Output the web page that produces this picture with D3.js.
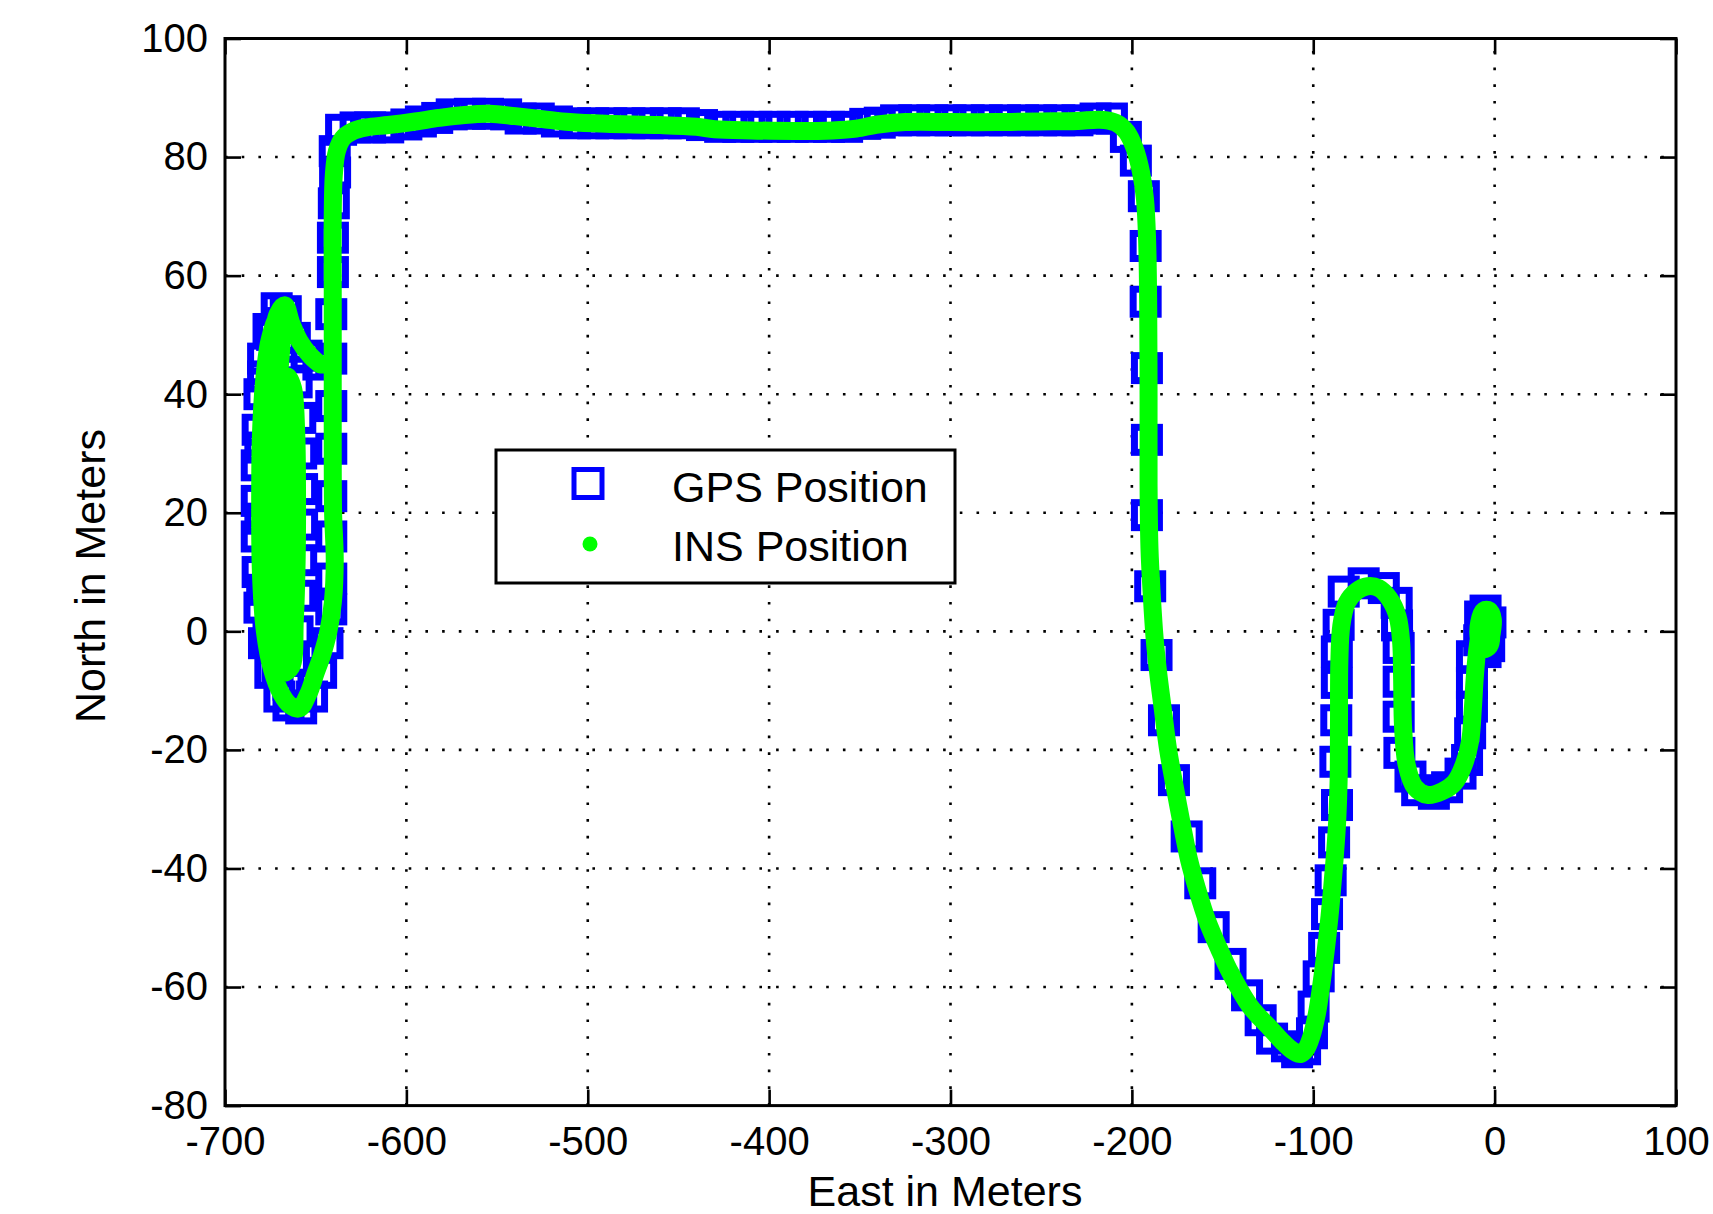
<!DOCTYPE html>
<html>
<head>
<meta charset="utf-8">
<script src="https://cdn.jsdelivr.net/npm/d3@7"></script>
<style>
  html, body { margin: 0; padding: 0; background: #fff; }
  svg { display: block; font-family: "Liberation Sans", Arial, Helvetica, sans-serif; }
</style>
</head>
<body>
<svg id="chart" width="1713" height="1214"></svg>
<script>
// Axis ticks
const xTicks = [-700, -600, -500, -400, -300, -200, -100, 0, 100];
const yTicks = [-80, -60, -40, -20, 0, 20, 40, 60, 80, 100];

const seriesNames = ["GPS Position", "INS Position"];
const xTitle = "East in Meters";
const yTitle = "North in Meters";

// GPS fixes (east, north) in metres
const gpsEast = [
  -3, -2.3, -5, -8, -8.5, -5,
  -12.5, -12.5, -12.5, -13.5, -15.2, -18.8, -26.2, -33.5, -42.7, -46.4,
  -52.5, -52.9, -52.9, -52.9, -53.8, -54, -61.1, -72.2, -83.2, -86,
  -87, -87, -87.3, -87.8, -86.9, -88.5, -90.4, -92.4, -94, -97, -99.8, -100.7,
  -104.5, -108.9, -114.5, -122.7, -129, -136.5, -145.6, -154.9, -162.3, -169.8,
  -176.8, -182.3, -186.4, -189.9, -191.7, -191.7, -191.7, -192.4, -192.4, -193.4,
  -197.8, -203.3, -211, -220,
  -230, -240, -250, -260, -270, -280, -290, -300, -310, -320, -330,
  -339, -347, -357, -367, -377, -387, -397, -407, -417, -427,
  -437, -447, -457, -467, -477, -487, -497, -507,
  -517, -527, -537, -545, -555, -565, -575, -583, -592, -600, -610, -620, -628, -636,
  -639.5, -639.3, -640, -640.5, -640.5, -641.4, -641.4, -641.4, -641.4, -641.4,
  -641.4, -641.4, -641.4, -643.5, -647, -652, -658,
  -665, -670, -675, -678.5, -681, -682, -682.5, -682.5, -682.5, -682, -681, -679,
  -676, -671.5, -666.5, -663, -660.5, -658.5, -658, -657.5, -657.5, -658, -658.5,
  -660, -662, -665,
  -671, -676, -679.5, -680.5, -680.5, -679, -674, -668, -661.5, -655, -648.5,
  -672, -670, -668, -665
];
const gpsNorth = [
  -2.5, 1.5, 3.5, 2.5, -1.5, -3.5,
  -4.2, -8.7, -12.7, -17.2, -21.7, -24, -26.3, -27.4, -26.8, -24.5,
  -20.5, -14.4, -8.5, -2.8, 1, 4.8, 7.3, 8.1, 6.7, 1.1,
  -3.4, -8.7, -15, -22, -29.3, -35.6, -42, -47.7, -53.4, -58.2, -63.3, -67.8,
  -70.5, -71, -70, -68.7, -65.6, -61.4, -56.1, -49.9, -42.5, -34.6,
  -25.1, -15, -4, 7.6, 19.6, 32.3, 44.4, 55.6, 65, 73.4,
  79.4, 83.4, 86.5, 86.5,
  86.2, 86.2, 86.2, 86.2, 86.2, 86.2, 86.2, 86.2, 86.2, 86.2, 86.2,
  85.8, 85.6, 85.1, 85.1, 85.1, 85.1, 85.1, 85.1, 85.1, 85.1,
  85.4, 85.7, 85.7, 85.7, 85.7, 85.7, 85.7, 85.7,
  86, 86.5, 86.5, 87.2, 87.3, 87.3, 87.2, 86.6, 86, 85.5, 85, 85, 85, 84.6,
  81, 77.4, 72.2, 66.4, 60.6, 53.5, 46, 38, 30.8, 22.8,
  16, 8.9, 3.7, -2, -7, -11, -13,
  -12.5, -11, -7, -2, 4, 10, 16, 22, 28, 34, 40, 46,
  51, 54.5, 54, 48, 42, 36, 30, 24, 18, 12, 6,
  0, -5, -9,
  -6, -1, 7, 19, 31, 43, 50, 52, 49.5, 46.5, 45,
  10, 25, 38, 15
];

// INS solution (east, north) in metres
const insEast = [
  -2, -1, -3, -6, -8.5, -8.5, -6, -3, -2, -4, -7, -9.5,
  -11, -12, -13.5, -17, -22, -29, -37, -44, -48.5, -50.5, -51, -51.5,
  -53.5, -58, -64, -70, -76, -81.5, -84.5, -85.6, -85.8, -86, -86.8, -88,
  -89.5, -91, -93.3, -95.5, -98, -101, -104, -107, -111, -116, -123.6, -134.7,
  -145.7, -152, -158.6, -164, -168.5, -172.5, -176.5, -180, -183, -185.5, -187.5, -189,
  -190.3, -190.8, -190.8, -191, -191.6, -192.8, -195, -198.5, -203, -209, -217.5,
  -230, -250, -275, -300, -325, -340, -352, -365, -385, -410, -430, -440,
  -460, -490, -510, -525, -540, -554, -568, -582, -595, -610, -622, -630,
  -635, -638.3, -640, -640.6, -640.6, -640.6, -640.6, -640.4, -639.5, -640.5,
  -643, -646.5, -650, -654, -659,
  -664, -669, -674, -678, -680.2, -680.6, -680.2, -678.5, -675.5, -671.5, -669,
  -670.5, -672, -672.5, -672.5, -671, -668,
  -663.5, -661.5, -660.5, -660.3, -660.8, -662.5, -665.5,
  -667.5, -667.5, -667.5, -668, -670.5,
  -675, -677.5, -678, -677.5, -675, -671, -667, -663.5, -659, -653, -647.5
];
const insNorth = [
  -1, 2, 3.5, 3.5, 1.5, -1.5, -3, -2.5, 0, 2, 1, -3,
  -8, -13, -18.5, -22.5, -25.5, -27, -27.6, -26.3, -22.5, -16, -8, -2,
  2.5, 5.5, 7.3, 7.6, 6.8, 4.8, 1, -5, -15, -25, -32, -37.5,
  -43, -48, -54.3, -59.5, -64.5, -68.3, -70.5, -71.3, -70.8, -69.5, -67, -63.3,
  -57.6, -53.5, -48.7, -43.5, -38.5, -32.5, -26, -20, -13, -7, -1, 6,
  14, 25, 40, 55, 66, 73, 77.5, 81.5, 84.3, 85.8, 86.3,
  86.1, 86, 85.9, 85.9, 85.9, 85.5, 84.8, 84.5, 84.4, 84.5, 84.7, 85.1,
  85.4, 85.6, 85.9, 86.4, 86.9, 87.3, 87.1, 86.6, 86, 85.4, 85, 84.3,
  83.2, 81, 77, 70, 58, 45, 32, 20, 12, 5,
  0, -4, -7, -10.5, -13,
  -12.5, -10.5, -6.5, 0, 10, 22, 33, 42, 49, 52.5, 50,
  42, 32, 20, 8, -1, -7,
  -6, 2, 12, 24, 34, 41, 43,
  38, 28, 16, 5, -3,
  -2, 8, 22, 36, 46, 53.5, 55, 52, 49, 46.5, 45
];

const svg = d3.select("#chart");
const W = 1713, H = 1214;
const plot = { left: 225, right: 1676, top: 38.5, bottom: 1105.6 };

svg.append("rect").attr("width", W).attr("height", H).attr("fill", "#fff");

const x = d3.scaleLinear().domain([-700, 100]).range([plot.left, plot.right]);
const y = d3.scaleLinear().domain([-80, 100]).range([plot.bottom, plot.top]);

// Dotted grid
const grid = svg.append("g")
  .attr("stroke", "#000")
  .attr("stroke-width", 2.6)
  .attr("stroke-dasharray", "2.6 14.1")
  .attr("fill", "none");
grid.selectAll("line.gx")
  .data(xTicks.slice(1, -1))
  .join("line")
  .attr("class", "gx")
  .attr("x1", d => x(d)).attr("x2", d => x(d))
  .attr("y1", plot.bottom).attr("y2", plot.top);
grid.selectAll("line.gy")
  .data(yTicks.slice(1, -1))
  .join("line")
  .attr("class", "gy")
  .attr("y1", d => y(d)).attr("y2", d => y(d))
  .attr("x1", plot.left).attr("x2", plot.right);

// GPS markers: hollow squares
const gpsData = gpsEast.map((e, i) => ({ e, n: gpsNorth[i] }));
const sq = 25;
svg.append("g")
  .selectAll("rect")
  .data(gpsData)
  .join("rect")
  .attr("x", d => x(d.e) - sq / 2)
  .attr("y", d => y(d.n) - sq / 2)
  .attr("width", sq)
  .attr("height", sq)
  .attr("fill", "none")
  .attr("stroke", "#0000ff")
  .attr("stroke-width", 7);

// INS track: dense dots merge into a thick band
const insData = insEast.map((e, i) => ({ e, n: insNorth[i] }));
const insLine = d3.line()
  .x(d => x(d.e))
  .y(d => y(d.n))
  .curve(d3.curveCatmullRom.alpha(0.5));
svg.append("path")
  .datum(insData)
  .attr("d", insLine)
  .attr("fill", "none")
  .attr("stroke", "#00ff00")
  .attr("stroke-width", 18)
  .attr("stroke-linejoin", "round")
  .attr("stroke-linecap", "round");

// Axes (ticks point inward on all four sides)
const fmt = d => String(d);
const tickLen = 16;
function styleAxis(g) {
  g.select(".domain").remove();
  g.selectAll(".tick line").attr("stroke", "#000").attr("stroke-width", 2.6);
  g.selectAll(".tick text")
    .attr("fill", "#000")
    .style("font-size", "40px")
    .style("font-family", "'Liberation Sans', Arial, sans-serif");
}
svg.append("g")
  .attr("transform", `translate(0,${plot.bottom})`)
  .call(d3.axisBottom(x).tickValues(xTicks).tickSizeInner(-tickLen).tickSizeOuter(0).tickPadding(21).tickFormat(fmt))
  .call(styleAxis);
svg.append("g")
  .attr("transform", `translate(0,${plot.top})`)
  .call(d3.axisTop(x).tickValues(xTicks).tickSizeInner(-tickLen).tickSizeOuter(0).tickFormat(""))
  .call(styleAxis);
svg.append("g")
  .attr("transform", `translate(${plot.left},0)`)
  .call(d3.axisLeft(y).tickValues(yTicks).tickSizeInner(-tickLen).tickSizeOuter(0).tickPadding(17).tickFormat(fmt))
  .call(styleAxis);
svg.append("g")
  .attr("transform", `translate(${plot.right},0)`)
  .call(d3.axisRight(y).tickValues(yTicks).tickSizeInner(-tickLen).tickSizeOuter(0).tickFormat(""))
  .call(styleAxis);

// Axes box
svg.append("rect")
  .attr("x", plot.left).attr("y", plot.top)
  .attr("width", plot.right - plot.left)
  .attr("height", plot.bottom - plot.top)
  .attr("fill", "none")
  .attr("stroke", "#000")
  .attr("stroke-width", 3);

// Axis titles
svg.append("text")
  .attr("x", 945).attr("y", 1206)
  .attr("text-anchor", "middle")
  .style("font-size", "43px")
  .text(xTitle);
svg.append("text")
  .attr("transform", "translate(105,576) rotate(-90)")
  .attr("text-anchor", "middle")
  .style("font-size", "43px")
  .text(yTitle);

// Legend
const lg = svg.append("g");
lg.append("rect")
  .attr("x", 496).attr("y", 450)
  .attr("width", 459).attr("height", 133)
  .attr("fill", "#fff")
  .attr("stroke", "#000")
  .attr("stroke-width", 3);
lg.append("rect")
  .attr("x", 588 - 14).attr("y", 483.5 - 14)
  .attr("width", 28).attr("height", 28)
  .attr("fill", "none")
  .attr("stroke", "#0000ff")
  .attr("stroke-width", 5);
lg.append("circle")
  .attr("cx", 590).attr("cy", 544)
  .attr("r", 7.5)
  .attr("fill", "#00ff00");
lg.selectAll("text")
  .data(seriesNames)
  .join("text")
  .attr("x", 672)
  .attr("y", (d, i) => 501.5 + i * 59)
  .style("font-size", "43px")
  .text(d => d);
</script>
</body>
</html>
